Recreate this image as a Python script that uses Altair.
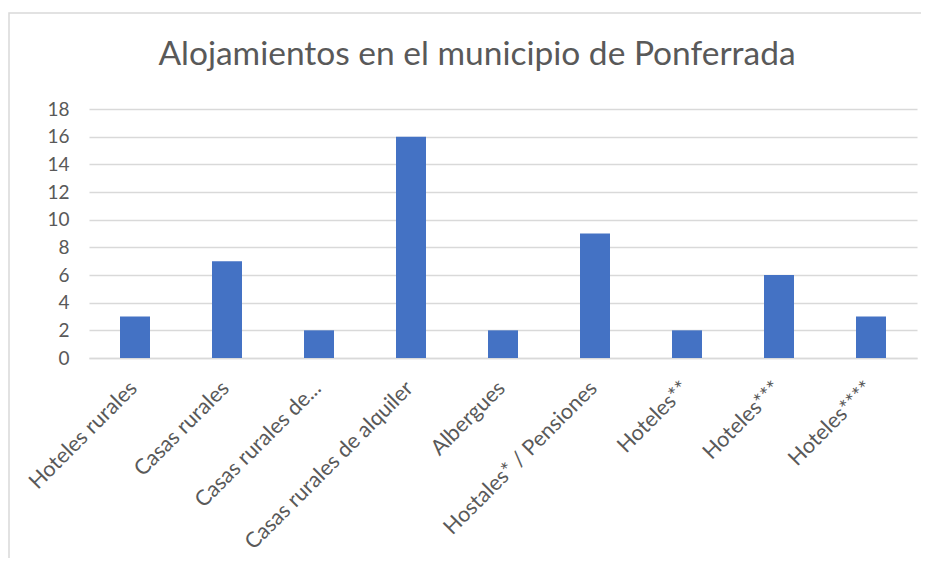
import altair as alt
import pandas as pd

categorias = ["Hoteles rurales", "Casas rurales", "Casas rurales de...",
              "Casas rurales de alquiler", "Albergues", "Hostales* / Pensiones",
              "Hoteles**", "Hoteles***", "Hoteles****"]
valores = [3, 7, 2, 16, 2, 9, 2, 6, 3]
titulo = "Alojamientos en el municipio de Ponferrada"

df = pd.DataFrame({"categoria": categorias, "valor": valores})

W, H = 828, 249
FONT = "Lato"
GREY = "#595959"

bars = alt.Chart(df).mark_bar(color="#4472C4", size=30).encode(
    x=alt.X("categoria:N", sort=categorias, title=None,
            scale=alt.Scale(paddingInner=0, paddingOuter=0),
            axis=alt.Axis(labelAngle=-45, labelAlign="right", labelBaseline="middle",
                          labelPadding=27, labelOffset=-1, ticks=False, domain=True,
                          domainColor="#d9d9d9", domainWidth=1.5, labelColor=GREY,
                          labelFont=FONT, labelFontSize=21.5, labelLimit=400, grid=False)),
    y=alt.Y("valor:Q", title=None,
            scale=alt.Scale(domain=[0, 18]),
            axis=alt.Axis(values=list(range(0, 19, 2)), ticks=False, domain=False,
                          gridColor="#d9d9d9", gridWidth=1.5, labelColor=GREY,
                          labelFont=FONT, labelFontSize=19, labelPadding=20)),
)

frame = alt.Chart(pd.DataFrame({"a": [0]})).mark_rect(
    fill=None, stroke="#d9d9d9", strokeWidth=1.5, clip=False
).encode(x=alt.value(-80), x2=alt.value(W + 40), y=alt.value(-96), y2=alt.value(H + 400))

title = alt.Chart(pd.DataFrame({"t": [titulo]})).mark_text(
    font=FONT, fontSize=33.5, color=GREY, align="center", baseline="alphabetic"
).encode(text="t:N", x=alt.value(388), y=alt.value(-44))

chart = alt.layer(frame, bars, title).properties(
    width=W, height=H,
    autosize=alt.AutoSizeParams(type="none"),
    padding={"left": 81, "top": 101, "right": 4, "bottom": 200},
).configure_view(stroke=None)

chart.save("out.html", embed_options={"renderer": "svg", "actions": False})
